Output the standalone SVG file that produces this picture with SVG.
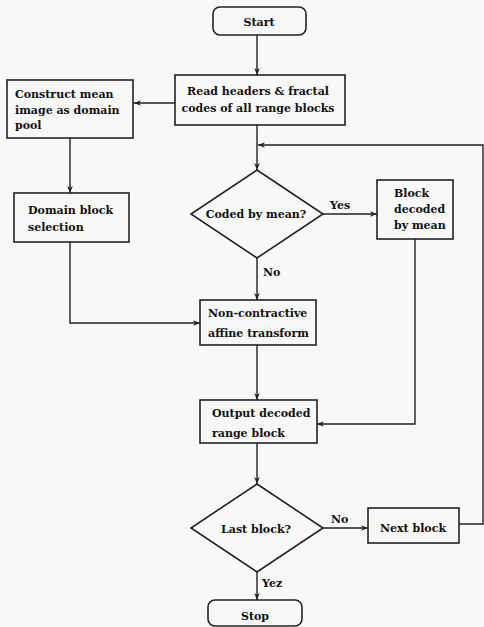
<svg xmlns="http://www.w3.org/2000/svg" width="484" height="627" viewBox="0 0 484 627">
<defs>
<marker id="arr" viewBox="0 0 10 10" refX="10" refY="5" markerWidth="7" markerHeight="7" orient="auto" markerUnits="userSpaceOnUse">
<path d="M0,1 L10,5 L0,9 L3,5 Z" fill="#222"/>
</marker>
</defs>
<style>
.box{fill:none;stroke:#222;stroke-width:1.6}
.ln{fill:none;stroke:#222;stroke-width:1.4}
text{font-family:'DejaVu Serif',serif;font-weight:bold;font-size:11px;fill:#111}
.c{text-anchor:middle}
</style>
<rect width="484" height="627" fill="#f8f8f8"/>
<g id="connectors">
<path class="ln" d="M257,35 V75" marker-end="url(#arr)"/>
<path class="ln" d="M175,103 H134" marker-end="url(#arr)"/>
<path class="ln" d="M257,125 V170" marker-end="url(#arr)"/>
<path class="ln" d="M459,524 H483 V145 H258" marker-end="url(#arr)"/>
<path class="ln" d="M70,138 V193" marker-end="url(#arr)"/>
<path class="ln" d="M323,214 H377" marker-end="url(#arr)"/>
<path class="ln" d="M257,258 V300" marker-end="url(#arr)"/>
<path class="ln" d="M70,242 V323 H200" marker-end="url(#arr)"/>
<path class="ln" d="M257,345 V400" marker-end="url(#arr)"/>
<path class="ln" d="M415,239 V424 H317" marker-end="url(#arr)"/>
<path class="ln" d="M257,443 V484" marker-end="url(#arr)"/>
<path class="ln" d="M323,528 H368" marker-end="url(#arr)"/>
<path class="ln" d="M257,572 V600" marker-end="url(#arr)"/>
<text x="330" y="209">Yes</text>
<text x="263" y="276">No</text>
<text x="331" y="523">No</text>
<text x="262" y="587">Yez</text>
</g>
<g id="start">
<rect class="box" x="213" y="7" width="93" height="28" rx="7"/>
<text class="c" x="259" y="26">Start</text>
</g>
<g id="read">
<rect class="box" x="175" y="75" width="170" height="50"/>
<text class="c" x="258" y="95">Read headers &amp; fractal</text>
<text class="c" x="258" y="112">codes of all range blocks</text>
</g>
<g id="construct">
<rect class="box" x="7" y="80" width="126" height="58"/>
<text x="15" y="98">Construct mean</text>
<text x="15" y="114">image as domain</text>
<text x="15" y="129">pool</text>
</g>
<g id="domain">
<rect class="box" x="14" y="193" width="115" height="49"/>
<text x="28" y="214">Domain block</text>
<text x="28" y="231">selection</text>
</g>
<g id="coded">
<polygon class="box" points="257,170 323,214 257,258 191,214"/>
<text class="c" x="256" y="218">Coded by mean?</text>
</g>
<g id="blockmean">
<rect class="box" x="377" y="180" width="76" height="59"/>
<text x="394" y="197">Block</text>
<text x="394" y="213">decoded</text>
<text x="394" y="229">by mean</text>
</g>
<g id="noncontractive">
<rect class="box" x="200" y="300" width="116" height="45"/>
<text x="208" y="317">Non-contractive</text>
<text x="208" y="337">affine transform</text>
</g>
<g id="output">
<rect class="box" x="200" y="400" width="117" height="43"/>
<text x="212" y="417">Output decoded</text>
<text x="212" y="437">range block</text>
</g>
<g id="last">
<polygon class="box" points="257,484 323,528 257,572 191,528"/>
<text class="c" x="256" y="533">Last block?</text>
</g>
<g id="next">
<rect class="box" x="368" y="508" width="91" height="35"/>
<text class="c" x="413" y="532">Next block</text>
</g>
<g id="stop">
<rect class="box" x="208" y="600" width="94" height="26" rx="7"/>
<text class="c" x="255" y="620">Stop</text>
</g>
</svg>
